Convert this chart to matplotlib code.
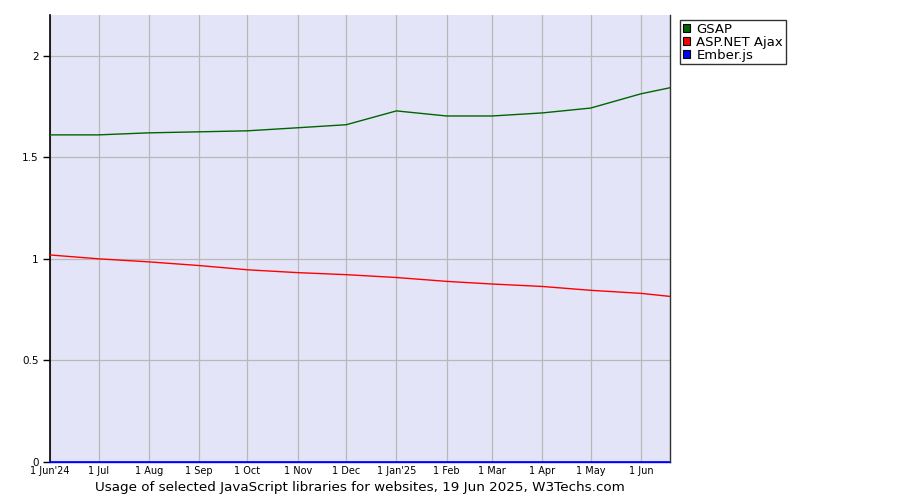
import matplotlib
matplotlib.use("Agg")
import matplotlib.pyplot as plt
from matplotlib.patches import Patch
import numpy as np

dates = ["2024-06-01", "2024-07-01", "2024-08-01", "2024-09-01", "2024-10-01",
         "2024-11-01", "2024-12-01", "2025-01-01", "2025-02-01", "2025-03-01",
         "2025-04-01", "2025-05-01", "2025-06-01", "2025-06-19"]
gsap = [1.61, 1.61, 1.62, 1.625, 1.63, 1.645, 1.66, 1.728, 1.703, 1.703,
        1.718, 1.742, 1.812, 1.842]
aspnet = [1.019, 1.0, 0.985, 0.967, 0.946, 0.932, 0.922, 0.908, 0.889, 0.876,
          0.864, 0.845, 0.830, 0.815]
ember = [0, 0, 0, 0, 0, 0, 0, 0, 0, 0, 0, 0, 0, 0]

series_names = ["GSAP", "ASP.NET Ajax", "Ember.js"]
series_colors = ["#006400", "#ff0000", "#0000ff"]

tick_dates = ["2024-06-01", "2024-07-01", "2024-08-01", "2024-09-01", "2024-10-01",
              "2024-11-01", "2024-12-01", "2025-01-01", "2025-02-01", "2025-03-01",
              "2025-04-01", "2025-05-01", "2025-06-01"]
tick_labels = ["1 Jun'24", "1 Jul", "1 Aug", "1 Sep", "1 Oct", "1 Nov", "1 Dec",
               "1 Jan'25", "1 Feb", "1 Mar", "1 Apr", "1 May", "1 Jun"]
y_ticks = [0, 0.5, 1, 1.5, 2]
y_labels = ["0", "0.5", "1", "1.5", "2"]

title = "Usage of selected JavaScript libraries for websites, 19 Jun 2025, W3Techs.com"

plt.rcParams['font.family'] = ['DejaVu Sans']

x = np.array(dates, dtype="datetime64[D]")
xt = np.array(tick_dates, dtype="datetime64[D]")

fig = plt.figure(figsize=(9, 5), dpi=100)
ax = fig.add_axes([50/900, 1-462/500, 620/900, 447/500])
ax.set_facecolor("#e4e4f8")

for vals, name, col in zip([gsap, aspnet, ember], series_names, series_colors):
    ax.plot(x, vals, color=col, lw=1.0, zorder=3, clip_on=False)

ax.set_xlim(x[0], x[-1])
ax.set_ylim(0, 2.2)
ax.set_xticks(xt)
ax.set_xticklabels(tick_labels, fontsize=7)
ax.set_yticks(y_ticks)
ax.set_yticklabels(y_labels, fontsize=7.5)
ax.tick_params(axis='x', length=0, pad=3)
ax.tick_params(axis='y', length=5, width=1, direction='out', pad=3)
ax.grid(True, color="#b8b8b8", lw=0.9, zorder=1)
ax.set_axisbelow(True)

for s in ["top", "right"]:
    ax.spines[s].set_visible(False)
ax.spines["left"].set_color("black")
ax.spines["left"].set_linewidth(1.2)
ax.spines["bottom"].set_color("#0000ff")
ax.spines["bottom"].set_linewidth(1.2)

ax.plot([1, 1], [0, 1], transform=ax.transAxes, color="#303030", lw=1.0, clip_on=False, zorder=4)

handles = [Patch(facecolor=c, edgecolor="black", lw=0.8) for c in series_colors]
leg = fig.legend(handles, series_names, loc="upper left",
                 bbox_to_anchor=(680/900, 1-20/500), fontsize=9.5,
                 frameon=True, fancybox=False, borderpad=0.2, labelspacing=0.0,
                 handlelength=0.55, handleheight=0.6, handletextpad=0.5,
                 borderaxespad=0)
leg.get_frame().set_edgecolor("black")
leg.get_frame().set_linewidth(1.0)

fig.text(360/900, 1-488/500, title, ha="center", va="center", fontsize=9.7)

fig.savefig("out.png", dpi=100)
